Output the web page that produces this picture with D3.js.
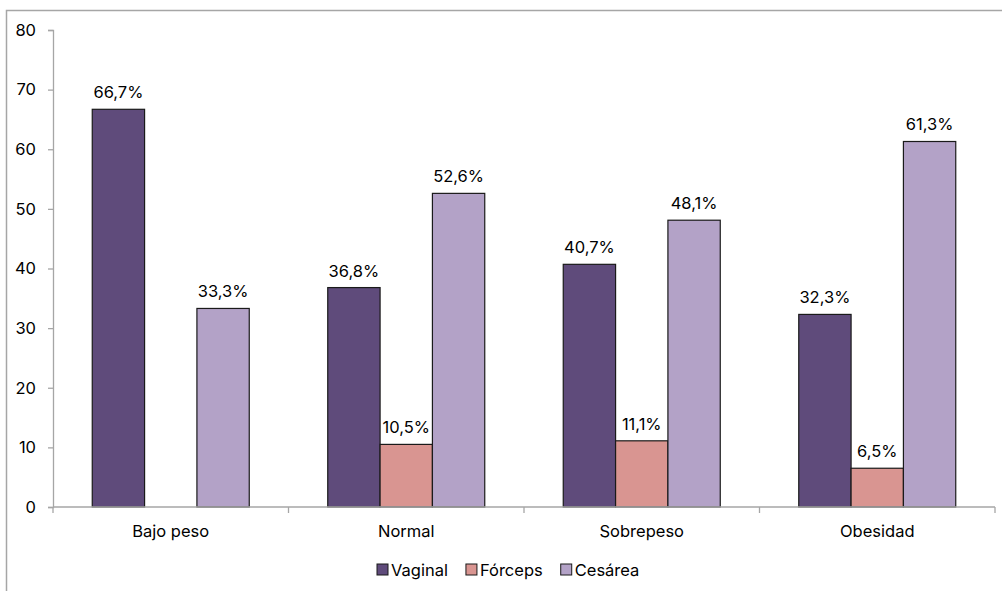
<!DOCTYPE html>
<html>
<head>
<meta charset="utf-8">
<script src="https://cdn.jsdelivr.net/npm/d3@7"></script>
<style>
  html, body { margin: 0; padding: 0; background: #fff; }
  svg { display: block; font-family: Inter, Lato, "Open Sans", sans-serif; }
</style>
</head>
<body>
<svg id="chart" width="1002" height="591"></svg>
<script>
// Delivery type by BMI group (percent)
const categories = ["Bajo peso", "Normal", "Sobrepeso", "Obesidad"];
const seriesNames = ["Vaginal", "Fórceps", "Cesárea"];
const vaginal = [66.7, 36.8, 40.7, 32.3];
const forceps = [null, 10.5, 11.1, 6.5];
const cesarea = [33.3, 52.6, 48.1, 61.3];
const yTicks = [0, 10, 20, 30, 40, 50, 60, 70, 80];
const colors = ["#5f4b7b", "#d99591", "#b3a2c7"];

const seriesValues = [vaginal, forceps, cesarea];
const FONT = "Inter, Lato, 'Open Sans', sans-serif";
const FS = "16.5px";

const svg = d3.select("#chart");
const margin = { left: 53, right: 1002 - 995, top: 30, bottom: 591 - 507 };
const W = 1002, H = 591;

// outer frame (open on the right and bottom)
svg.append("path")
  .attr("d", `M6.5,591 L6.5,10.5 L1002,10.5`)
  .attr("fill", "none").attr("stroke", "#a6a6a6").attr("stroke-width", 1.5);

const x0 = d3.scaleBand().domain(categories)
  .range([margin.left, W - margin.right]).paddingInner(0).paddingOuter(0);
const x1 = d3.scaleBand().domain(seriesNames)
  .range([0, x0.bandwidth()]).paddingOuter(0.75).paddingInner(0);
const y = d3.scaleLinear().domain([0, 80]).range([H - margin.bottom, margin.top]);

// y axis
const yAxis = svg.append("g").attr("transform", `translate(${margin.left},0)`)
  .call(d3.axisLeft(y).tickValues(yTicks).tickSize(5).tickPadding(12).tickFormat(d3.format("d")));
yAxis.select(".domain").attr("stroke", "#a6a6a6").attr("stroke-width", 1.3);
yAxis.selectAll(".tick line").attr("stroke", "#a6a6a6").attr("stroke-width", 1.3);
yAxis.selectAll("text").attr("fill", "#000").style("font-size", FS)
  .style("font-family", FONT);

// bars
const groups = svg.append("g").selectAll("g")
  .data(categories).join("g")
  .attr("transform", d => `translate(${x0(d)},0)`);

groups.each(function(cat, ci) {
  const g = d3.select(this);
  seriesNames.forEach((s, si) => {
    const v = seriesValues[si][ci];
    if (v == null) return;
    g.append("rect")
      .attr("x", x1(s))
      .attr("y", y(v))
      .attr("width", x1.bandwidth())
      .attr("height", y(0) - y(v))
      .attr("fill", colors[si])
      .attr("stroke", "#1a1a1a")
      .attr("stroke-width", 1.2);
    g.append("text")
      .attr("x", x1(s) + x1.bandwidth() / 2)
      .attr("y", y(v) - 11)
      .attr("text-anchor", "middle")
      .style("font-size", FS)
      .attr("fill", "#000")
      .text(d3.format(".1f")(v).replace(".", ",") + "%");
  });
});

// x axis (drawn over bar bottoms)
const xAxis = svg.append("g").attr("transform", `translate(0,${y(0)})`);
xAxis.append("line")
  .attr("x1", margin.left).attr("x2", W - margin.right)
  .attr("stroke", "#a6a6a6").attr("stroke-width", 1.5);
const tickXs = categories.map(c => x0(c)).concat([x0(categories[categories.length - 1]) + x0.bandwidth()]);
xAxis.selectAll("line.tk").data(tickXs).join("line").attr("class", "tk")
  .attr("x1", d => d).attr("x2", d => d).attr("y1", 0).attr("y2", 6)
  .attr("stroke", "#a6a6a6").attr("stroke-width", 1.3);
xAxis.selectAll("text").data(categories).join("text")
  .attr("x", d => x0(d) + x0.bandwidth() / 2)
  .attr("y", 30)
  .attr("text-anchor", "middle")
  .style("font-size", FS)
  .attr("fill", "#000")
  .text(d => d);

// legend
const legend = svg.append("g").attr("transform", "translate(377,570)");
let lx = 0;
seriesNames.forEach((s, i) => {
  const item = legend.append("g").attr("transform", `translate(${lx},0)`);
  item.append("rect").attr("x", 0).attr("y", -6).attr("width", 11).attr("height", 11)
    .attr("fill", colors[i]).attr("stroke", "#1a1a1a").attr("stroke-width", 1);
  const t = item.append("text").attr("x", 14).attr("y", 6)
    .style("font-size", FS).attr("fill", "#000").text(s);
  lx += 14 + t.node().getComputedTextLength() + 18;
});
</script>
</body>
</html>
